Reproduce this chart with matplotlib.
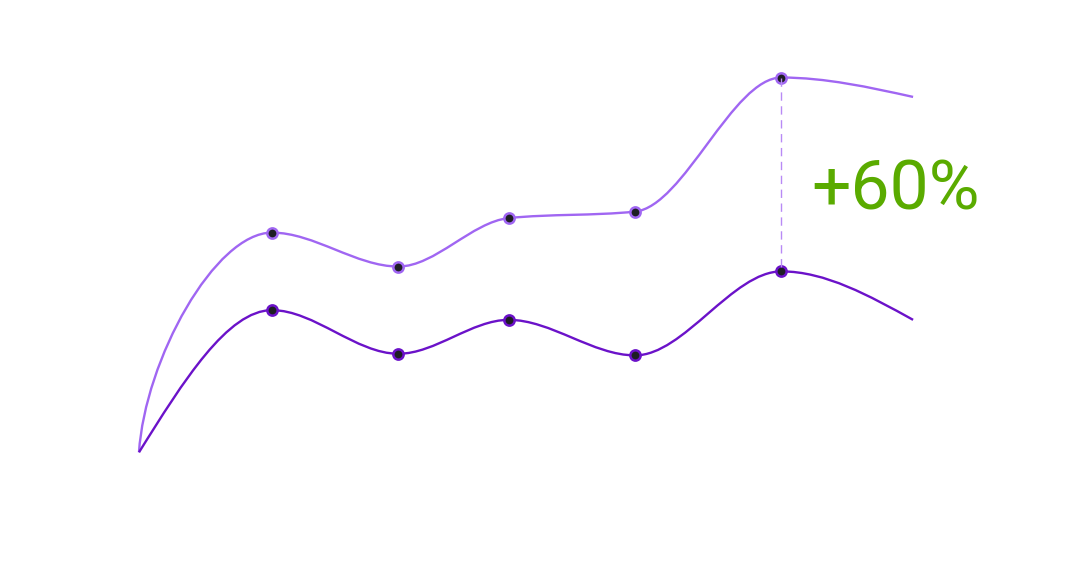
import matplotlib
matplotlib.use("Agg")
import matplotlib.pyplot as plt
import numpy as np
from matplotlib.path import Path
from matplotlib.patches import PathPatch

# x positions (arbitrary time units) and the two series
x = [0, 10, 19.5, 27.8, 37.3, 48.3, 58.2]
upper = [44, 112, 101.5, 116.5, 118.5, 160, 154]
lower = [44, 88, 74.5, 85, 74, 100, 85]
marked = [1, 2, 3, 4, 5]       # indices that get a dot
compare_idx = 5                # where the +60% gap is measured
label = "+60%"

upper_color = "#a066f2"
lower_color = "#6b12c9"
green = "#5aab00"


def monotone_slopes(xs, ys):
    xs, ys = np.asarray(xs, float), np.asarray(ys, float)
    h = np.diff(xs)
    s = np.diff(ys) / h
    m = np.zeros(len(xs))
    for i in range(1, len(xs) - 1):
        p = (s[i - 1] * h[i] + s[i] * h[i - 1]) / (h[i - 1] + h[i])
        m[i] = (np.sign(s[i - 1]) + np.sign(s[i])) * min(abs(s[i - 1]), abs(s[i]), 0.5 * abs(p))
    m[0] = (3 * s[0] - m[1]) / 2
    m[-1] = (3 * s[-1] - m[-2]) / 2
    return m


def smooth_path(xs, ys, start=None):
    # monotone cubic through the points; `start` reshapes the first segment
    m = monotone_slopes(xs, ys)
    verts = [(xs[0], ys[0])]
    codes = [Path.MOVETO]
    for i in range(len(xs) - 1):
        h = xs[i + 1] - xs[i]
        if i == 0 and start is not None:
            a, b, c = start
            c1 = (xs[0] + a * h, ys[0] + b * (ys[1] - ys[0]))
            c2 = (xs[1] - c * h, ys[1] - m[1] * c * h)
        else:
            c1 = (xs[i] + h / 3, ys[i] + m[i] * h / 3)
            c2 = (xs[i + 1] - h / 3, ys[i + 1] - m[i + 1] * h / 3)
        verts += [c1, c2, (xs[i + 1], ys[i + 1])]
        codes += [Path.CURVE4] * 3
    return Path(verts, codes)


fig = plt.figure(figsize=(10.8, 5.88), dpi=100)
ax = fig.add_axes([0, 0, 1, 1])
ax.set_xlim(-10.45, 70.75)
ax.set_ylim(2, 184)
ax.axis("off")

ax.add_patch(PathPatch(smooth_path(x, upper, start=(0.045, 0.42, 0.43)),
                       fill=False, edgecolor=upper_color, lw=1.7, zorder=2))
ax.add_patch(PathPatch(smooth_path(x, lower),
                       fill=False, edgecolor=lower_color, lw=1.7, zorder=2))

mx = [x[i] for i in marked]
ax.plot(mx, [upper[i] for i in marked], "o", ms=7.4, mfc="#1e1e24",
        mec=upper_color, mew=1.8, zorder=3)
ax.plot(mx, [lower[i] for i in marked], "o", ms=7.4, mfc="#1e1e24",
        mec=lower_color, mew=1.8, zorder=3)

ax.plot([x[compare_idx], x[compare_idx]], [upper[compare_idx], lower[compare_idx]],
        color="#b88af5", lw=1, dashes=(6, 4), zorder=4)

ax.text(0.751, 0.644, label, transform=ax.transAxes, color=green,
        fontsize=50, family=["Roboto", "DejaVu Sans"], ha="left", va="baseline")

fig.savefig("out.png", dpi=100, facecolor="white")
